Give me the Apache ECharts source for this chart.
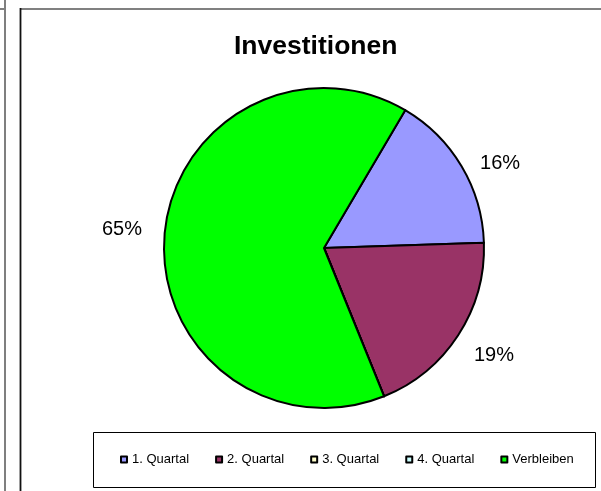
<!DOCTYPE html>
<html>
<head>
<meta charset="utf-8">
<script src="https://cdn.jsdelivr.net/npm/echarts@6/dist/echarts.min.js"></script>
<style>
html,body{margin:0;padding:0;background:#fff;}
#chart{width:601px;height:491px;}
</style>
</head>
<body>
<div id="chart"></div>
<script>
const chartTitle = 'Investitionen';
const categories = ['1. Quartal', '2. Quartal', '3. Quartal', '4. Quartal', 'Verbleiben'];
const values = [16, 19.4, 0, 0, 64.6];
const colors = ['#9999FF', '#993366', '#FFFFCC', '#CCFFFF', '#00FF00'];

// label placement styling (per slice)
const labelLen1 = [6.4, 36.4, 0, 0, 95];
const labelLen2 = [8, -19.7, 0, 0, -77.3];

const FONT = '"Liberation Sans", Arial, sans-serif';

const pieData = categories.map((name, i) => ({
  name: name,
  value: values[i],
  itemStyle: { color: colors[i] },
  label: { show: values[i] > 0 },
  labelLine: { length: labelLen1[i], length2: labelLen2[i] }
}));

const chart = echarts.init(document.getElementById('chart'), null, { renderer: 'canvas' });
chart.setOption({
  animation: false,
  backgroundColor: '#fff',
  title: {
    text: chartTitle,
    left: 234,
    top: 33,
    padding: 0,
    textStyle: { fontFamily: FONT, fontSize: 26.5, fontWeight: 'bold', color: '#000' }
  },
  legend: {
    data: categories,
    left: 120,
    top: 453,
    padding: 0,
    itemGap: 26,
    itemWidth: 6,
    itemHeight: 6,
    icon: 'rect',
    itemStyle: { borderColor: '#000', borderWidth: 2 },
    textStyle: { fontFamily: FONT, fontSize: 13, color: '#000' },
    selectedMode: false
  },
  graphic: [
    { type: 'line', shape: { x1: 5, y1: 0, x2: 5, y2: 491 }, style: { stroke: '#555', lineWidth: 1.5 }, silent: true },
    { type: 'line', shape: { x1: 0, y1: 9, x2: 5, y2: 9 }, style: { stroke: '#808080', lineWidth: 2 }, silent: true },
    { type: 'line', shape: { x1: 20, y1: 9, x2: 601, y2: 9 }, style: { stroke: '#808080', lineWidth: 2 }, silent: true },
    { type: 'line', shape: { x1: 20.5, y1: 8, x2: 20.5, y2: 491 }, style: { stroke: '#111', lineWidth: 1.8 }, silent: true },
    { type: 'rect', shape: { x: 93.5, y: 432.5, width: 502, height: 55 }, style: { fill: 'none', stroke: '#000', lineWidth: 1 }, silent: true }
  ],
  series: [{
    type: 'pie',
    center: [324, 248],
    radius: 160,
    startAngle: 59.5,
    clockwise: true,
    avoidLabelOverlap: false,
    minAngle: 0,
    itemStyle: { borderColor: '#000', borderWidth: 2 },
    label: {
      position: 'outside',
      fontFamily: FONT,
      fontSize: 20,
      color: '#000',
      distanceToLabelLine: 5,
      formatter: p => Math.round(p.percent) + '%'
    },
    labelLine: { show: false },
    emphasis: { disabled: true },
    data: pieData
  }]
});
</script>
</body>
</html>
